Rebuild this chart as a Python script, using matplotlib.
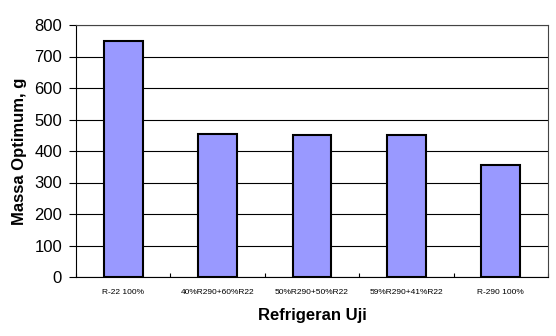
import matplotlib
matplotlib.use("Agg")
import matplotlib.pyplot as plt
import numpy as np

categories = ["R-22 100%", "40%R290+60%R22", "50%R290+50%R22",
              "59%R290+41%R22", "R-290 100%"]
massa = [750, 455, 450, 450, 355]
yticks = [0, 100, 200, 300, 400, 500, 600, 700, 800]

fig = plt.figure(figsize=(5.56, 3.36), dpi=100)
ax = fig.add_axes([76 / 556, 1 - 277 / 336, 472 / 556, 252 / 336])

x = np.arange(len(categories))
ax.bar(x, massa, width=0.41, color="#9999FF", edgecolor="black",
       linewidth=1.5, zorder=3)

ax.set_xlim(-0.5, len(categories) - 0.5)
ax.set_ylim(0, 800)
ax.set_yticks(yticks)
ax.grid(axis="y", color="black", linewidth=0.8, zorder=0)

# category labels between boundary ticks, like a spreadsheet chart
ax.set_xticks(x)
ax.set_xticklabels(categories, fontsize=6, family="Liberation Sans")
ax.tick_params(axis="x", length=0, pad=9)
ax.set_xticks(np.arange(len(categories) + 1) - 0.5, minor=True)
ax.tick_params(axis="x", which="minor", direction="in", length=3, width=0.8)
ax.tick_params(axis="y", direction="out", length=5, width=0.8,
               labelsize=12, pad=5)
for lab in ax.get_yticklabels():
    lab.set_family("Liberation Sans")

for s in ax.spines.values():
    s.set_linewidth(0.8)
    s.set_color("black")
ax.spines["top"].set_color("#444444")
ax.spines["right"].set_color("#444444")

ax.set_xlabel("Refrigeran Uji", fontsize=12, fontweight="bold",
              family="Liberation Sans", labelpad=8)
ax.set_ylabel("Massa Optimum, g", fontsize=12, fontweight="bold",
              family="Liberation Sans", labelpad=5)

fig.savefig("out.png", dpi=100)
